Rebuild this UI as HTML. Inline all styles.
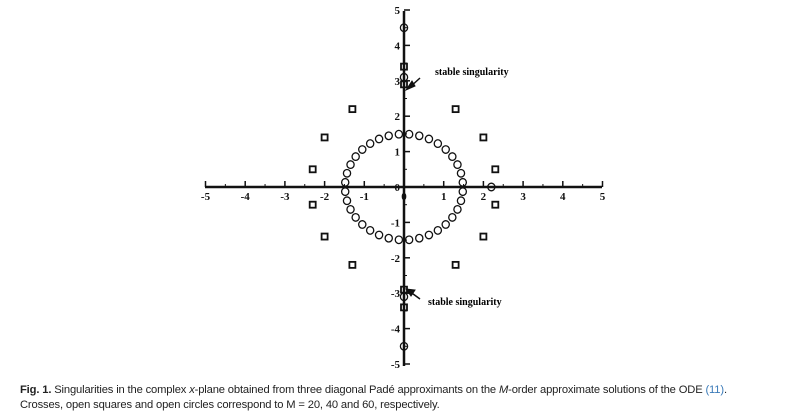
<!DOCTYPE html>
<html><head><meta charset="utf-8"><style>
body{margin:0;width:800px;height:418px;background:#fff;overflow:hidden;font-family:"Liberation Sans",sans-serif}
.cap{position:absolute;left:20px;font-size:11.2px;color:#222;white-space:nowrap;letter-spacing:-0.15px}
</style></head><body>
<svg id="s" width="800" height="418" style="position:absolute;left:0;top:0" xmlns="http://www.w3.org/2000/svg">
<g stroke="#111" fill="none">
<line x1="205" y1="187" x2="602" y2="187" stroke-width="2.5"/>
<line x1="404" y1="11" x2="404" y2="366" stroke-width="2.5"/>
<line x1="420" y1="78" x2="409" y2="88" stroke-width="1.5"/>
<polygon points="406,90 412,81 415,86" fill="#111"/>
<line x1="420" y1="299" x2="409" y2="291" stroke-width="1.5"/>
<polygon points="406,289 415,290 411,296" fill="#111"/>
</g>
<g id="g" font-family="Liberation Serif,serif" font-weight="bold" font-size="11" fill="#111"></g>
<text x="435" y="75" font-family="Liberation Serif,serif" font-weight="bold" font-size="10">stable singularity</text>
<text x="428" y="305" font-family="Liberation Serif,serif" font-weight="bold" font-size="10">stable singularity</text>
</svg>
<div class="cap" style="top:384px"><b>Fig. 1.</b> Singularities in the complex <i>x</i>-plane obtained from three diagonal Padé approximants on the <i>M</i>-order approximate solutions of the ODE <span style="color:#3a7ab8">(11)</span>.</div>
<div class="cap" style="top:399px">Crosses, open squares and open circles correspond to M = 20, 40 and 60, respectively.</div>
<script>
var g=document.getElementById('g'),NS='http://www.w3.org/2000/svg';
function X(v){return 404+v*39.7}function Y(v){return 187-v*35.4}
function el(t,a){var e=document.createElementNS(NS,t);for(var k in a)e.setAttribute(k,a[k]);g.appendChild(e);return e}
for(var i=-5;i<=5;i++){
 el('line',{x1:X(i),y1:187,x2:X(i),y2:181,stroke:'#111','stroke-width':1.5});
 el('line',{x1:404,y1:Y(i),x2:410,y2:Y(i),stroke:'#111','stroke-width':1.5});
 if(i<5){
 el('line',{x1:X(i+0.5),y1:187,x2:X(i+0.5),y2:184,stroke:'#111','stroke-width':1});
 el('line',{x1:404,y1:Y(i+0.5),x2:407,y2:Y(i+0.5),stroke:'#111','stroke-width':1});
 }
 var t=el('text',{x:X(i),y:200,'text-anchor':'middle'});t.textContent=i;
 if(i!=0){t=el('text',{x:400,y:Y(i)+4,'text-anchor':'end'});t.textContent=i;}
}
var t=el('text',{x:400,y:191,'text-anchor':'end'});t.textContent='0';
function C(x,y){el('ellipse',{cx:x,cy:y,rx:3.6,ry:3.8,fill:'none',stroke:'#111','stroke-width':1.3})}
for(var k=0;k<36;k++){var a=(k+0.5)*Math.PI*2/36;C(404+59*Math.cos(a),187-53*Math.sin(a));}
C(X(2.2),187);C(404,Y(4.5));C(404,Y(-4.5));C(404,Y(3.1));C(404,Y(-3.1));
function S(x,y){el('rect',{x:x-3,y:y-3,width:6,height:6,fill:'none',stroke:'#111','stroke-width':1.8})}
[[1.3,2.2],[2,1.4],[2.3,0.5]].forEach(function(p){[1,-1].forEach(function(a){[1,-1].forEach(function(b){S(X(a*p[0]),Y(b*p[1]))})})});
S(404,Y(3.4));S(404,Y(-3.4));S(404,Y(2.9));S(404,Y(-2.9));
</script>
</body></html>
